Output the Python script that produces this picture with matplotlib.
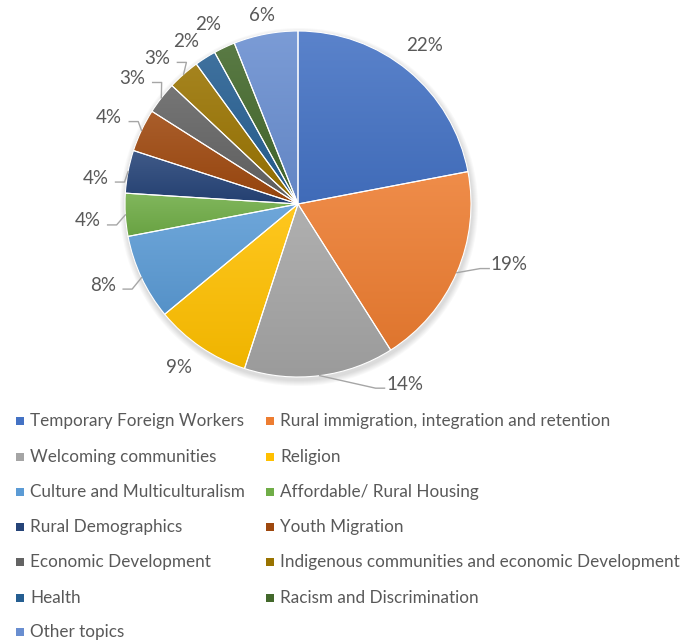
import numpy as np
import matplotlib
matplotlib.use("Agg")
import matplotlib.pyplot as plt
from matplotlib.colors import to_rgb
from matplotlib.patches import Rectangle, Circle
from matplotlib.transforms import Bbox, TransformedBbox

topics = ["Temporary Foreign Workers", "Rural immigration, integration and retention",
          "Welcoming communities", "Religion", "Culture and Multiculturalism",
          "Affordable/ Rural Housing", "Rural Demographics", "Youth Migration",
          "Economic Development", "Indigenous communities and economic Development",
          "Health", "Racism and Discrimination", "Other topics"]
shares = [22, 19, 14, 9, 8, 4, 4, 4, 3, 3, 2, 2, 6]
colors = ["#4472C4", "#ED7D31", "#A5A5A5", "#FFC000", "#5B9BD5", "#70AD47", "#264478",
          "#9E480E", "#636363", "#997300", "#255E91", "#43682B", "#698ED0"]

# label placement (angle nudge in degrees, distance as fraction of radius, leader line?)
lab_nudge = [1.0, 7.4, 23.4, -1.8, -2.6, 1.0, 3.5, 0.6, 0.6, 2.6, 2.3, 1.5, 0.0]
lab_dist = [1.17, 1.27, 1.21, 1.17, 1.22, 1.22, 1.18, 1.20, 1.20, 1.17, 1.14, 1.16, 1.11]
leader = [False, True, True, False, True, True, True, True, True, True, False, False, False]

W, H = 699, 643
cx, cy, R = 298, H - 204, 173
txt = "#595959"
font = "Lato"

fig = plt.figure(figsize=(W / 100, H / 100), dpi=100)
ax = fig.add_axes([0, 0, 1, 1])

# soft shadow
for k in range(6):
    ax.add_patch(Circle((cx + 1, cy - 3), R + 1 + k, color="black", alpha=0.025, lw=0, zorder=0))

wedges, _ = ax.pie(shares, colors=colors, startangle=90, counterclock=False,
                   center=(cx, cy), radius=R, frame=False,
                   wedgeprops=dict(edgecolor="white", linewidth=0.8))

def mix(c, other, t):
    c = np.array(to_rgb(c)); o = np.array(to_rgb(other))
    return c * (1 - t) + o * t

# vertical shading inside each wedge
for w, c in zip(wedges, colors):
    ext = w.get_path().transformed(w.get_patch_transform()).get_extents()
    top = mix(c, "white", 0.12)
    bot = mix(c, "black", 0.06)
    t = np.linspace(0, 1, 64)[:, None]
    grad = (bot[None, :] * (1 - t) + top[None, :] * t)[:, None, :]
    im = ax.imshow(grad, extent=[ext.x0, ext.x1, ext.y0, ext.y1], origin="lower",
                   aspect="auto", interpolation="bilinear", zorder=w.get_zorder())
    im.set_clip_path(w)
    w.set_facecolor("none")
    w.set_zorder(w.get_zorder() + 0.1)

# percentage labels
for w, s, nd, d, ld in zip(wedges, shares, lab_nudge, lab_dist, leader):
    mid = (w.theta1 + w.theta2) / 2
    a = np.deg2rad(mid + nd)
    lx, ly = cx + d * R * np.cos(a), cy + d * R * np.sin(a)
    ax.text(lx, ly, f"{s}%", ha="center", va="center", fontsize=13.5,
            color=txt, family=font, zorder=5)
    if ld:
        m = np.deg2rad(mid)
        ex, ey = cx + R * np.cos(m), cy + R * np.sin(m)
        side = 1 if lx > cx else -1
        sx = lx - side * 20
        yl = ly - 4
        ax.plot([ex, sx - side * 9, sx], [ey, yl, yl], color="#A6A6A6", lw=1, zorder=4)

# legend, two columns
col_x = [16, 266]
row_y = [421, 457, 492, 527, 562, 598, 632]
for i, name in enumerate(topics):
    x0 = col_x[i % 2]
    y0 = H - row_y[i // 2]
    ax.add_patch(Rectangle((x0, y0 - 4), 8, 8, color=colors[i], lw=0))
    t = ax.text(x0 + 14, y0, name, ha="left", va="center", fontsize=12.3,
                color=txt, family=font)
    if i % 2 == 0:
        t.set_clip_box(TransformedBbox(Bbox([[0, 0], [246, H]]), ax.transData))
        t.set_clip_on(True)

ax.set_xlim(0, W)
ax.set_ylim(0, H)
ax.set_aspect("auto")
ax.axis("off")
fig.savefig("out.png", dpi=100, facecolor="white")
